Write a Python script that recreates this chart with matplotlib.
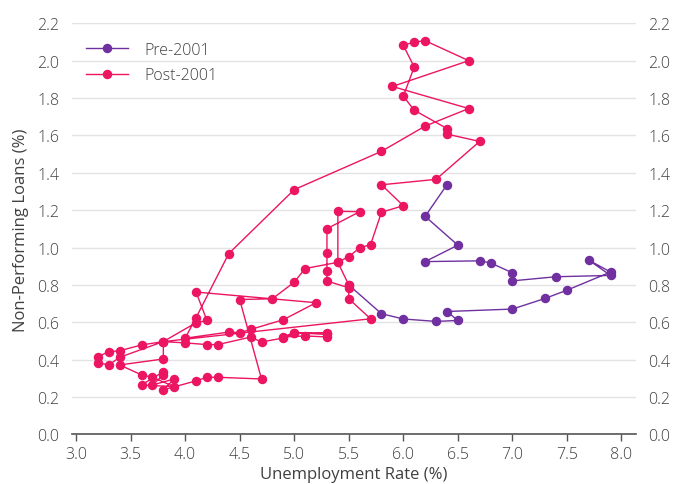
import matplotlib.pyplot as plt

# Pre-2001: unemployment rate (%) and non-performing loans (%)
pre_unemp = [6.4, 6.2, 6.5, 6.2, 6.7, 6.8, 7.0, 7.0, 7.4, 7.9, 7.7, 7.9, 7.5, 7.3, 7.0,
             6.4, 6.5, 6.3, 6.0, 5.8, 5.5]
pre_npl = [1.336, 1.167, 1.013, 0.925, 0.929, 0.918, 0.865, 0.822, 0.844, 0.851, 0.933,
           0.869, 0.772, 0.728, 0.671, 0.658, 0.610, 0.605, 0.618, 0.646, 0.80]

# Post-2001
post_unemp = [5.5, 5.4, 5.4, 5.6, 5.3, 5.3, 5.3, 5.3, 5.5, 5.5, 5.7, 3.8, 3.8, 3.4,
              3.6, 3.7, 3.9, 3.6, 3.8, 3.8, 3.7, 3.9, 3.8, 4.1, 4.2, 4.3, 4.7,
              4.5, 4.8, 5.0, 5.1, 5.4, 5.5, 5.6, 5.7, 5.8, 6.0, 5.8, 6.3, 6.7, 6.4,
              6.4, 6.1, 6.0, 6.1, 6.0, 6.1, 6.2, 6.6, 5.9, 6.6, 6.2, 5.8, 5.0, 4.4,
              4.1, 4.0, 4.4, 4.5, 4.6, 4.9, 5.2, 4.1, 4.2, 4.1, 3.8, 3.6, 3.4, 3.3,
              3.2, 3.2, 3.3, 3.4, 3.8, 4.0, 4.2, 4.3, 4.6, 4.7, 4.9, 5.0, 5.3, 5.3,
              5.1, 4.9, 5.0, 5.3]
post_npl = [0.80, 0.921, 1.194, 1.192, 1.101, 0.972, 0.877, 0.821, 0.785, 0.726, 0.619,
            0.497, 0.404, 0.372, 0.319, 0.306, 0.256, 0.265, 0.336, 0.319, 0.265, 0.297,
            0.239, 0.287, 0.306, 0.306, 0.297, 0.722, 0.726, 0.815, 0.888, 0.921, 0.952,
            0.998, 1.016, 1.189, 1.224, 1.336, 1.365, 1.568, 1.607, 1.637, 1.735, 1.81,
            1.966, 2.082, 2.10, 2.107, 2.0, 1.862, 1.744, 1.65, 1.515, 1.31, 0.968,
            0.625, 0.515, 0.548, 0.545, 0.562, 0.614, 0.705, 0.762, 0.61, 0.598, 0.497,
            0.479, 0.448, 0.443, 0.416, 0.384, 0.372, 0.413, 0.497, 0.49, 0.481, 0.481,
            0.521, 0.495, 0.516, 0.543, 0.545, 0.522, 0.527, 0.522, 0.545, 0.535]

x_ticks = [3.0, 3.5, 4.0, 4.5, 5.0, 5.5, 6.0, 6.5, 7.0, 7.5, 8.0]
y_ticks = [0.0, 0.2, 0.4, 0.6, 0.8, 1.0, 1.2, 1.4, 1.6, 1.8, 2.0, 2.2]

purple = '#7030A0'
pink = '#EC1561'
text_col = '#404040'

plt.rcParams['font.family'] = ['Open Sans', 'DejaVu Sans']
plt.rcParams['font.weight'] = 'light'

fig = plt.figure(figsize=(6.77, 4.85), dpi=100)
ax = fig.add_axes([0.1064, 0.1021, 0.8330, 0.8478])

ax.plot(pre_unemp, pre_npl, color=purple, lw=1.0, marker='o', ms=5.8,
        label='Pre-2001', zorder=3)
ax.plot(post_unemp, post_npl, color=pink, lw=1.0, marker='o', ms=5.8,
        label='Post-2001', zorder=4)

ax.set_xlim(2.963, 8.133)
ax.set_ylim(0, 2.2)
ax.set_xticks(x_ticks)
ax.set_xticklabels([f'{v:.1f}' for v in x_ticks])
ax.set_yticks(y_ticks)
ax.set_yticklabels([f'{v:.1f}' for v in y_ticks])

ax.grid(axis='y', color='#e3e3e3', lw=1.0)
ax.set_axisbelow(True)
for s in ['top', 'left', 'right']:
    ax.spines[s].set_visible(False)
ax.spines['bottom'].set_color('#555555')
ax.spines['bottom'].set_linewidth(1.2)

ax.tick_params(axis='x', colors='#555555', length=5, width=1.0, labelsize=11.5,
               labelcolor=text_col, pad=3)
ax.tick_params(axis='y', length=0, labelsize=11.5, labelcolor=text_col, pad=9,
               labelright=True)

ax.set_xlabel('Unemployment Rate (%)', fontsize=12, color=text_col, labelpad=3)
ax.set_ylabel('Non-Performing Loans (%)', fontsize=12, color=text_col, labelpad=6)

leg = ax.legend(loc='upper left', bbox_to_anchor=(0.0, 0.99), frameon=False,
                fontsize=11.5, handlelength=2.6, labelspacing=0.6, handletextpad=1.0)
for t in leg.get_texts():
    t.set_color(text_col)

fig.savefig('out.png', dpi=100)
